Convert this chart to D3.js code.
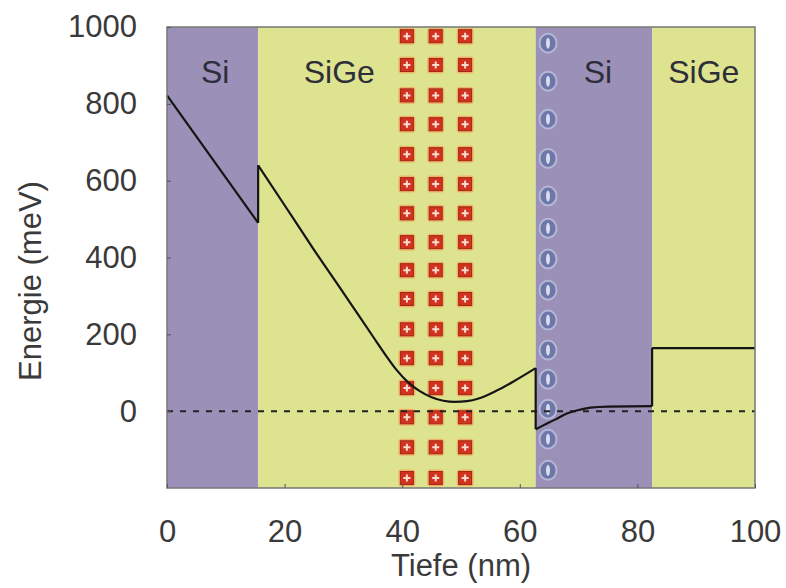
<!DOCTYPE html>
<html>
<head>
<meta charset="utf-8">
<script src="https://cdn.jsdelivr.net/npm/d3@7"></script>
<style>
  body { margin: 0; background: #fff; }
  svg { display: block; font-family: "Liberation Sans", Arial, sans-serif; }
</style>
</head>
<body>
<svg id="chart"></svg>
<script>
const width = 786, height = 588;
const margin = {top: 27, right: 31, bottom: 100, left: 167};

// layers
const layerNames = ["Si", "SiGe", "Si", "SiGe"];
const layerStart = [0, 15.5, 62.7, 82.5];
const layerEnd = [15.5, 62.7, 82.5, 100];
const labelX = [8.2, 29.3, 73.3, 91.3];

// band edge, one array pair per layer
const seg1X = [0, 15.5];
const seg1E = [822, 490];
const seg2X = [15.5, 20, 25, 30, 35, 37, 39, 41, 43, 45, 47, 49, 51, 53, 56, 59, 62.7];
const seg2E = [640, 536, 420, 308, 195, 150, 108, 75, 52, 36, 27, 24, 26, 33, 53, 78, 112];
const seg3X = [62.7, 64, 66, 68, 70, 72, 75, 82.5];
const seg3E = [-47, -37, -22, -6, 3, 9, 12, 13];
const seg4X = [82.5, 100];
const seg4E = [164, 164];

// dopants
const acceptorX = [40.8, 45.7, 50.7];
const acceptorE = [976, 901, 822, 747, 669, 591, 515, 440, 367, 292, 213, 138, 60, -16, -94, -174];
const donorX = [64.8];
const donorE = [958, 859, 760, 658, 560, 476, 396, 315, 237, 159, 83, 5, -73, -154];

const xTicks = [0, 20, 40, 60, 80, 100];
const yTicks = [0, 200, 400, 600, 800, 1000];

const colors = {Si: "#9a90b8", SiGe: "#dde38e"};

const svg = d3.select("#chart")
    .attr("width", width)
    .attr("height", height);

const x = d3.scaleLinear().domain([0, 100]).range([margin.left, width - margin.right]);
const y = d3.scaleLinear().domain([-200, 1000]).range([height - margin.bottom, margin.top]);

// layer backgrounds
svg.append("g").selectAll("rect")
    .data(layerNames)
    .join("rect")
    .attr("x", (d, i) => x(layerStart[i]))
    .attr("width", (d, i) => x(layerEnd[i]) - x(layerStart[i]))
    .attr("y", y(1000))
    .attr("height", y(-200) - y(1000))
    .attr("fill", d => colors[d]);

svg.append("g").selectAll("text")
    .data(layerNames)
    .join("text")
    .attr("x", (d, i) => x(labelX[i]))
    .attr("y", margin.top + 56)
    .attr("text-anchor", "middle")
    .attr("font-size", 32)
    .attr("fill", "#2e2e3a")
    .text(d => d);

// acceptors (+)
const acc = svg.append("g");
acceptorX.forEach(ax => {
    acceptorE.forEach(ae => {
        const g = acc.append("g").attr("transform", `translate(${x(ax)},${y(ae)})`);
        g.append("rect").attr("x", -8.5).attr("y", -8.5).attr("width", 17).attr("height", 17)
            .attr("rx", 3).attr("fill", "#f2a860").attr("opacity", 0.8);
        g.append("rect").attr("x", -6.5).attr("y", -6.5).attr("width", 13).attr("height", 13)
            .attr("fill", "#d2321e").attr("stroke", "#a02818").attr("stroke-width", 1);
        g.append("path").attr("d", "M-3.5,0H3.5M0,-3.5V3.5")
            .attr("stroke", "#f8dcd0").attr("stroke-width", 2);
    });
});

// donors (-)
const don = svg.append("g");
donorX.forEach(dx => {
    donorE.forEach(de => {
        const g = don.append("g").attr("transform", `translate(${x(dx)},${y(de)})`);
        g.append("ellipse").attr("rx", 8.5).attr("ry", 9.5)
            .attr("fill", "#6e77a8").attr("stroke", "#b4b8d6").attr("stroke-width", 2);
        g.append("ellipse").attr("rx", 2).attr("ry", 5.5).attr("fill", "#d6deef");
    });
});

// zero line
svg.append("line")
    .attr("x1", x(0)).attr("x2", x(100))
    .attr("y1", y(0)).attr("y2", y(0))
    .attr("stroke", "#222")
    .attr("stroke-width", 2)
    .attr("stroke-dasharray", "6,7");

// band edge
const segments = [[seg1X, seg1E], [seg2X, seg2E], [seg3X, seg3E], [seg4X, seg4E]];
const line = d3.line()
    .x(d => x(d[0]))
    .y(d => y(d[1]))
    .curve(d3.curveMonotoneX);

const band = svg.append("g")
    .attr("fill", "none")
    .attr("stroke", "#151515")
    .attr("stroke-width", 2.2);

segments.forEach(([sx, se], i) => {
    band.append("path").attr("d", line(d3.zip(sx, se)));
    if (i < segments.length - 1) {
        const [nx, ne] = segments[i + 1];
        band.append("line")
            .attr("x1", x(sx[sx.length - 1])).attr("y1", y(se[se.length - 1]))
            .attr("x2", x(nx[0])).attr("y2", y(ne[0]));
    }
});

// frame
svg.append("rect")
    .attr("x", x(0)).attr("y", y(1000))
    .attr("width", x(100) - x(0)).attr("height", y(-200) - y(1000))
    .attr("fill", "none")
    .attr("stroke", "#777")
    .attr("stroke-width", 1.5);

// axes
const xAxis = svg.append("g")
    .attr("transform", `translate(0,${y(-200)})`)
    .call(d3.axisBottom(x).tickValues(xTicks).tickSize(-4).tickPadding(32).tickFormat(d3.format("d")));
const yAxis = svg.append("g")
    .attr("transform", `translate(${x(0)},0)`)
    .call(d3.axisLeft(y).tickValues(yTicks).tickSize(-4).tickPadding(30).tickFormat(d3.format("d")));

[xAxis, yAxis].forEach(a => {
    a.select(".domain").remove();
    a.selectAll(".tick line").attr("stroke", "#555");
    a.selectAll(".tick text")
        .attr("font-size", 31)
        .attr("font-family", "Liberation Sans, Arial, sans-serif")
        .attr("fill", "#3a3a3a");
});

svg.append("text")
    .attr("x", (x(0) + x(100)) / 2)
    .attr("y", 576)
    .attr("text-anchor", "middle")
    .attr("font-size", 31)
    .attr("fill", "#3a3a3a")
    .text("Tiefe (nm)");

svg.append("text")
    .attr("transform", "translate(41,281) rotate(-90)")
    .attr("text-anchor", "middle")
    .attr("font-size", 31)
    .attr("fill", "#3a3a3a")
    .text("Energie (meV)");
</script>
</body>
</html>
